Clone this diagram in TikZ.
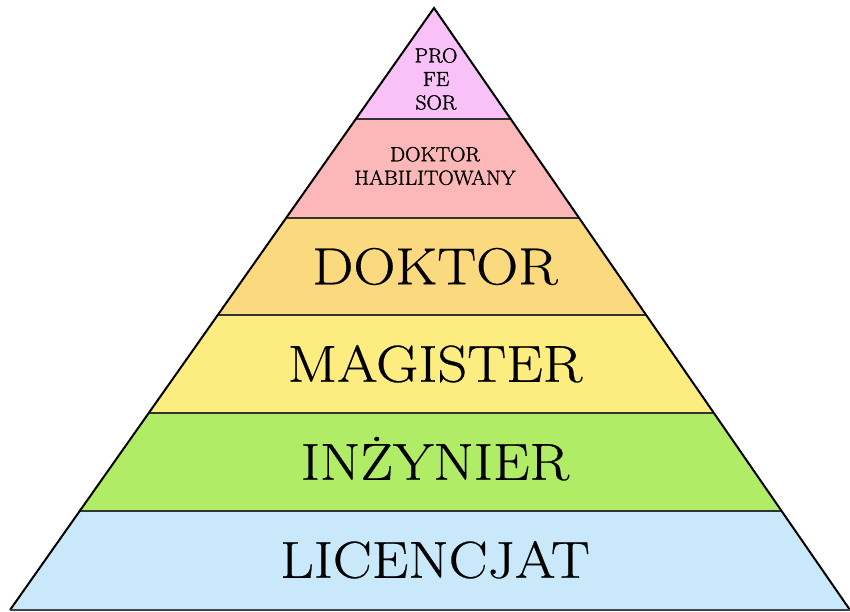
\documentclass[tikz,border=0pt]{standalone}
\usepackage{fontspec}
\setmainfont{Latin Modern Roman}[FakeStretch=1.12, FakeBold=0.5]
\newfontfamily\smallfam{Latin Modern Roman}[FakeStretch=1.04, FakeBold=1.5]
\definecolor{profcol}{HTML}{F8C2F8}
\definecolor{habcol}{HTML}{FCB8B8}
\definecolor{dokcol}{HTML}{FBD97F}
\definecolor{magcol}{HTML}{FDEC80}
\definecolor{inzcol}{HTML}{B1EC66}
\definecolor{liccol}{HTML}{C9E9FB}
\definecolor{basecol}{HTML}{3C4650}
\begin{document}
\begin{tikzpicture}[x=1pt,y=-1pt,
  lbl/.style={font=\fontsize{52}{52}\selectfont, text height=35.5pt, text depth=0pt, inner sep=0pt},
  slbl/.style={font=\smallfam\fontsize{20.5}{23.5}\selectfont, align=center, inner sep=0pt},
  sep/.style={draw=black!80, line width=1.3pt}]
\useasboundingbox (0,0) rectangle (850,612);
\coordinate (apex) at (434,8);
\coordinate (bl) at (10,610);
\coordinate (br) at (850,610);
\begin{scope}
  \clip (apex) -- (bl) -- (br) -- cycle;
  \fill[profcol] (0,0) rectangle (850,119);
  \fill[habcol] (0,119) rectangle (850,218);
  \fill[dokcol] (0,218) rectangle (850,315);
  \fill[magcol] (0,315) rectangle (850,413);
  \fill[inzcol] (0,413) rectangle (850,511);
  \fill[liccol] (0,511) rectangle (850,612);
  \draw[sep] (0,119) -- (850,119);
  \draw[sep] (0,218) -- (850,218);
  \draw[sep] (0,315) -- (850,315);
  \draw[sep] (0,413) -- (850,413);
  \draw[sep] (0,511) -- (850,511);
\end{scope}
\draw[line width=2pt, line join=miter] (bl) -- (apex) -- (br);
\draw[basecol, line width=2pt] (bl) -- (br);
\node[slbl] (prof) at (436,79) {PRO\\FE\\SOR};
\node[slbl] (hab) at (435,166) {DOKTOR\\HABILITOWANY};
\node[lbl] (dok) at (435,266.5) {DOKTOR};
\node[lbl] (mag) at (435,364) {MAGISTER};
\node[lbl] (inz) at (435,462) {INŻYNIER};
\node[lbl] (lic) at (435,560) {LICENCJAT};
\end{tikzpicture}
\end{document}
